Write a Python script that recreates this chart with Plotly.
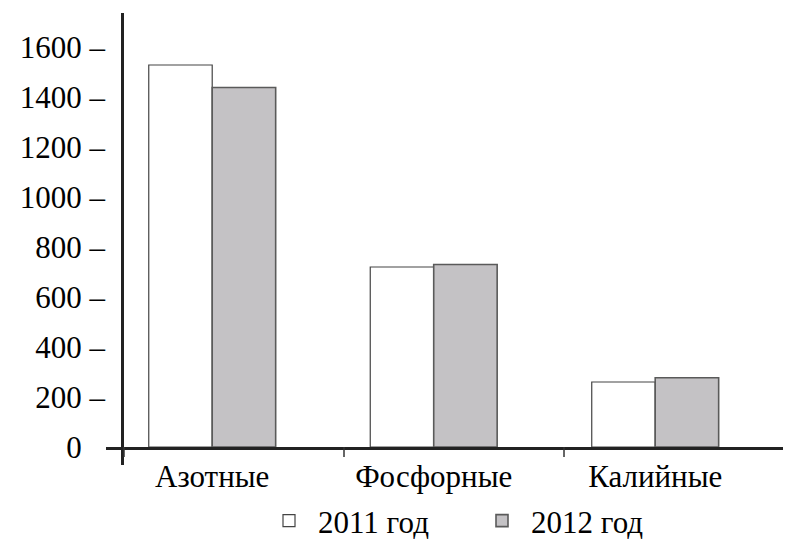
import plotly.graph_objects as go

categories = ["Азотные", "Фосфорные", "Калийные"]
series_names = ["2011 год", "2012 год"]
values_2011 = [1528, 720, 260]
values_2012 = [1438, 730, 277]
y_tick_values = [0, 200, 400, 600, 800, 1000, 1200, 1400, 1600]
y_tick_labels = ["0<span style='color:white'> –</span>", "200 –", "400 –", "600 –", "800 –",
                 "1000 –", "1200 –", "1400 –", "1600 –"]
boundary_ticks = [-0.5, 0.5, 1.5, 2.5]

FONT = "Liberation Serif, Times New Roman, serif"
FS = 31
W, H = 791, 539
PAGE = 8  # default body margin of the html page
ml, mr, mt, mb = 106, 6, 13, 92
plot_w = W - ml - mr
plot_h = H - mt - mb

# scale of the category-boundary tick marks (in category-slot units)
b_lo, b_hi = -0.5818, 2.5045

fig = go.Figure()
fig.add_trace(go.Bar(
    x=categories, y=values_2011, name=series_names[0],
    marker=dict(color="white", line=dict(color="#444444", width=1.2)),
))
fig.add_trace(go.Bar(
    x=categories, y=values_2012, name=series_names[1],
    marker=dict(color="#c4c2c5", line=dict(color="#5a5a5a", width=1.6)),
))

# vertical axis line (extends slightly below the horizontal axis)
fig.add_shape(type="line", xref="paper", yref="paper",
              x0=16.5 / plot_w, x1=16.5 / plot_w,
              y0=-18 / plot_h, y1=1,
              line=dict(color="#222222", width=3))

# short tick marks at the category boundaries, hanging below the x axis line
for b in boundary_ticks:
    px = (b - b_lo) / (b_hi - b_lo)
    fig.add_shape(type="line", xref="paper", yref="paper",
                  x0=px, x1=px, y0=0, y1=-10 / plot_h,
                  line=dict(color="#333333", width=1.5))

fig.update_layout(
    width=W - PAGE, height=H - PAGE,
    margin=dict(l=ml - PAGE, r=mr, t=mt - PAGE, b=mb, autoexpand=False),
    paper_bgcolor="white", plot_bgcolor="white",
    barmode="group", bargap=0.427, bargroupgap=0,
    font=dict(family=FONT, size=FS, color="black"),
    showlegend=True,
    legend=dict(orientation="h", x=(473 - ml) / plot_w, xanchor="center",
                y=-(521 - (H - mb)) / plot_h, yanchor="middle",
                bgcolor="rgba(0,0,0,0)",
                font=dict(family=FONT, size=FS, color="black"),
                entrywidth=150, entrywidthmode="pixels", itemwidth=48,
                traceorder="normal"),
    xaxis=dict(
        type="category", automargin=False,
        range=[-0.4795, 2.586],
        showline=True, linecolor="#222222", linewidth=3,
        ticks="", showgrid=False, zeroline=False,
        tickfont=dict(family=FONT, size=FS, color="black"),
    ),
    yaxis=dict(
        range=[0, 1736], automargin=False,
        tickvals=y_tick_values, ticktext=y_tick_labels,
        ticks="", showline=False, showgrid=False, zeroline=False,
        tickfont=dict(family=FONT, size=FS, color="black"),
    ),
)

fig.write_html("out.html")
